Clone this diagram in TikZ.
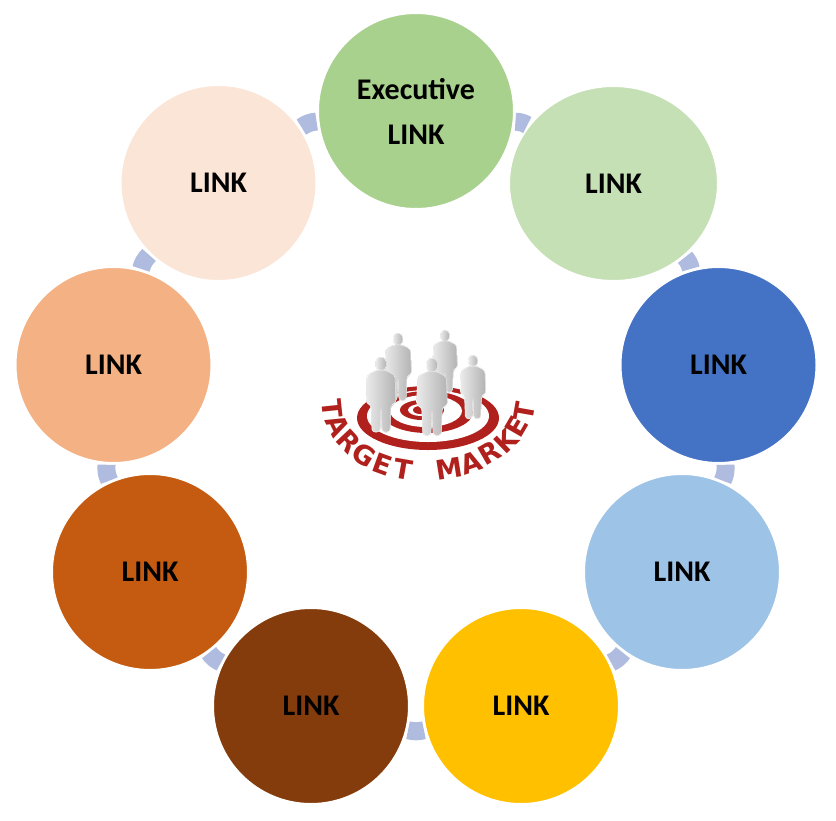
\documentclass[tikz,border=0pt]{standalone}
\usepackage{fontspec}
\setmainfont{Carlito}
\newfontfamily\tmfont{DejaVu Sans}
\usetikzlibrary{shapes.geometric}
\definecolor{linkgreen}{HTML}{A9D18E}
\definecolor{linklightgreen}{HTML}{C5E0B4}
\definecolor{linkblue}{HTML}{4472C4}
\definecolor{linklightblue}{HTML}{9DC3E6}
\definecolor{linkgold}{HTML}{FFC000}
\definecolor{linkbrown}{HTML}{843C0C}
\definecolor{linkorange}{HTML}{C55A11}
\definecolor{linkpeach}{HTML}{F4B183}
\definecolor{linklightpeach}{HTML}{FBE5D6}
\definecolor{linkbarcol}{HTML}{AFBCE0}
\definecolor{tmred}{HTML}{B0201C}

\begin{document}
\begin{tikzpicture}[x=1pt, y=-1pt,
    linkcircle/.style={circle, draw=white, line width=3pt, minimum size=197pt, inner sep=0pt,
      font=\fontsize{30}{45}\selectfont\bfseries, align=center},
    linkbar/.style={draw=linkbarcol, line width=18pt},
    tmletter/.style={font={\tmfont\bfseries\fontsize{27}{27}\selectfont}, text=tmred, inner sep=0pt},
    personshade/.style={left color=black!8, right color=black!30, draw=white, line width=0.5pt},
    person/.pic={
      \fill[personshade] (0,7) ellipse[x radius=5.5, y radius=7];
      \fill[personshade, rounded corners=3] (-4,13) -- (-14,18) -- (-15,46) -- (-10,48) -- (-9,75)
        -- (-1,75) -- (0,52) -- (1,75) -- (9,75) -- (10,48) -- (15,46) -- (14,18) -- (4,13) -- cycle;
    }]
      \useasboundingbox (0,0) rectangle (836,820);

      \node[linkcircle, fill=linkgreen] (c1) at (416,111) {Executive\\LINK};
      \node[linkcircle, ellipse, fill=linklightgreen, minimum width=210pt, minimum height=196pt] (c2) at (613.5,183.5) {LINK};
      \node[linkcircle, fill=linkblue] (c3) at (718.5,365) {LINK};
      \node[linkcircle, fill=linklightblue] (c4) at (682,572) {LINK};
      \node[linkcircle, fill=linkgold] (c5) at (521,706) {LINK};
      \node[linkcircle, fill=linkbrown] (c6) at (311,706) {LINK};
      \node[linkcircle, fill=linkorange] (c7) at (150,572) {LINK};
      \node[linkcircle, fill=linkpeach] (c8) at (113.5,365) {LINK};
      \node[linkcircle, fill=linklightpeach] (c9) at (218.5,183) {LINK};

      \draw[linkbar] (c1) to[bend left=14] (c2);
      \draw[linkbar] (c2) to[bend left=14] (c3);
      \draw[linkbar] (c3) to[bend left=14] (c4);
      \draw[linkbar] (c4) to[bend left=14] (c5);
      \draw[linkbar] (c5) to[bend left=14] (c6);
      \draw[linkbar] (c6) to[bend left=14] (c7);
      \draw[linkbar] (c7) to[bend left=14] (c8);
      \draw[linkbar] (c8) to[bend left=14] (c9);
      \draw[linkbar] (c9) to[bend left=14] (c1);

      \fill[tmred] (428,418) ellipse[x radius=71, y radius=32];
      \fill[white] (428,416) ellipse[x radius=61, y radius=26];
      \fill[tmred] (427,412) ellipse[x radius=46, y radius=21];
      \fill[white] (426,411) ellipse[x radius=36, y radius=16];
      \fill[tmred] (422,410) ellipse[x radius=22, y radius=10];
      \fill[white] (421,410) ellipse[x radius=13, y radius=6];
      \fill[tmred] (420,410) ellipse[x radius=7, y radius=4];

      \pic[scale=0.9] at (398,333) {person};
      \pic[scale=0.83] at (445,330) {person};
      \pic[scale=0.85] at (473,355) {person};
      \pic at (381,357) {person};
      \pic[scale=1.03] at (432,358) {person};

      \node[tmletter, rotate=-84] (t1) at (332,409) {T};
      \node[tmletter, rotate=-64] (t2) at (338,426) {A};
      \node[tmletter, rotate=-47] (t3) at (349,441) {R};
      \node[tmletter, rotate=-32] (t4) at (364,455) {G};
      \node[tmletter, rotate=-20] (t5) at (383,464) {E};
      \node[tmletter, rotate=-10] (t6) at (403,469) {T};
      \node[tmletter, rotate=9] (t7) at (449,469) {M};
      \node[tmletter, rotate=19] (t8) at (471,463) {A};
      \node[tmletter, rotate=30] (t9) at (490,453) {R};
      \node[tmletter, rotate=44] (t10) at (506,441) {K};
      \node[tmletter, rotate=60] (t11) at (517,427) {E};
      \node[tmletter, rotate=80] (t12) at (524,412) {T};
    \end{tikzpicture}
\end{document}
